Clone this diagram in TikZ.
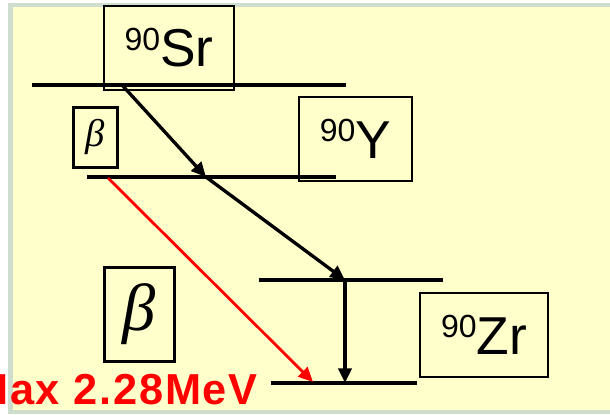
\RequirePackage{fix-cm}
\documentclass[tikz,border=0pt]{standalone}
\usepackage{fontspec}
\setmainfont{Liberation Sans}
\newfontfamily\greekfont{Liberation Serif}
\usetikzlibrary{arrows.meta}
\definecolor{slideBg}{RGB}{255,255,204}
\definecolor{slideEdge}{RGB}{206,221,206}
\newcommand{\isotope}[2]{{\fontsize{24}{24}\selectfont\raisebox{12.5pt}{#1}}#2}
\begin{document}
\begin{tikzpicture}[x=0.75pt,y=-0.75pt,font=\fontsize{40}{40}\selectfont,
level/.style={draw=black,line width=2.6pt},
isoBox/.style={draw=black,line width=1.5pt,inner sep=0pt,minimum height=63pt},
betaBox/.style={draw=black,line width=2.3pt,inner sep=0pt},
decay/.style={draw=black,line width=2.5pt,-{Triangle[length=11pt,width=10pt]}},
betaRay/.style={draw=red,line width=2.1pt,-{Triangle[length=11pt,width=10pt]}}]
\useasboundingbox (0,0) rectangle (610,414);
\clip (0,0) rectangle (610,414);
\fill[white] (0,0) rectangle (610,414);
\fill[slideEdge] (8,3) rectangle (612,414);
\fill[slideBg] (13,7) rectangle (612,410);
% energy levels
\draw[level] (32,85)--(346,85);
\draw[level] (87,177)--(336,177);
\draw[level] (259,280)--(443,280);
\draw[level] (271,383)--(417,383);
\coordinate (srDrop) at (122,85);
\coordinate (yHit) at (206,177);
\coordinate (zrHit) at (345,280);
\coordinate (zrGround) at (345,383);
\coordinate (betaStart) at (108,178);
\coordinate (betaEnd) at (313,382);
% nuclide labels
\node[isoBox,minimum width=97.5pt] (sr) at (169,47.5) {\isotope{90}{Sr}};
\node[isoBox,minimum width=85pt] (yt) at (355.5,138.5) {\isotope{90}{Y}};
\node[isoBox,minimum width=96pt] (zr) at (484,334.5) {\isotope{90}{Zr}};
\node[betaBox,minimum width=33pt,minimum height=45pt,font=\fontsize{29}{29}\greekfont\itshape] (betaSmall) at (95.5,137.5) {β};
\node[betaBox,minimum width=52pt,minimum height=71pt,font=\fontsize{50}{50}\greekfont\itshape] (betaBig) at (139.5,314.5) {β};
% transitions
\draw[decay] (srDrop)--(yHit);
\draw[decay] (yHit)--(zrHit);
\draw[decay] (zrHit)--(zrGround);
\draw[betaRay] (betaStart)--(betaEnd);
\node[anchor=base west,text=red,font=\fontsize{32.5}{32.5}\selectfont\bfseries\addfontfeatures{LetterSpace=4},inner sep=0pt] (maxEnergy) at (-28,404) {Max 2.28MeV};
\end{tikzpicture}
\end{document}
